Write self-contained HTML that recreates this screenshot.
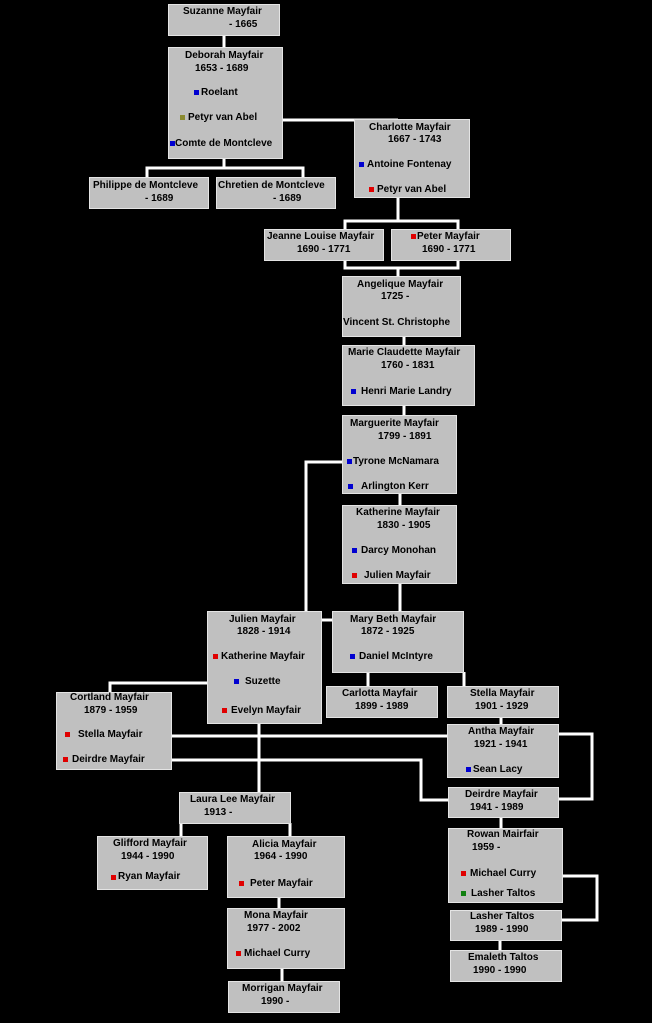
<!DOCTYPE html>
<html><head><meta charset="utf-8"><style>
html,body{margin:0;padding:0;background:#000;width:652px;height:1023px;overflow:hidden;position:relative}
.b{position:absolute;background:#c0c0c0;border:1px solid #e4e4e4;box-sizing:border-box}
i{position:absolute;font:bold 10px/12px "Liberation Sans",Arial,sans-serif;color:#000;font-style:normal;white-space:nowrap}
b{position:absolute;width:5px;height:5px}
.r{background:#e00000}.u{background:#0000d0}.o{background:#8a8a30}.g{background:#108010}
svg{position:absolute;left:0;top:0}
</style></head><body>
<svg width="652" height="1023"><g stroke="#fff" stroke-width="3" fill="none">
<path d="M224 35V47"/>
<path d="M282 120H398V119"/>
<path d="M224 158V168M147 177V168H303V177"/>
<path d="M398 197V221M345 229V221H458V229"/>
<path d="M345 260V268H458V260M398 268V276"/>
<path d="M404 336V345M404 405V415M400 493V505"/>
<path d="M342 462H306V611"/>
<path d="M400 583V611"/>
<path d="M321 620H332"/>
<path d="M207 683H110V692"/>
<path d="M368 672V686M464 672V686"/>
<path d="M259 723V792"/>
<path d="M171 736H447"/>
<path d="M171 760H421V800H448"/>
<path d="M501 717V724"/>
<path d="M558 734H592V799H558"/>
<path d="M501 817V828"/>
<path d="M181 823V836M290 823V836"/>
<path d="M279 897V908M282 968V981"/>
<path d="M562 876H597V920H561"/>
<path d="M500 940V950"/>
</g></svg>

<div class="b" style="left:168px;top:4px;width:112px;height:32px"></div>
<div class="b" style="left:168px;top:47px;width:115px;height:112px"></div>
<div class="b" style="left:89px;top:177px;width:120px;height:32px"></div>
<div class="b" style="left:216px;top:177px;width:120px;height:32px"></div>
<div class="b" style="left:354px;top:119px;width:116px;height:79px"></div>
<div class="b" style="left:264px;top:229px;width:120px;height:32px"></div>
<div class="b" style="left:391px;top:229px;width:120px;height:32px"></div>
<div class="b" style="left:342px;top:276px;width:119px;height:61px"></div>
<div class="b" style="left:342px;top:345px;width:133px;height:61px"></div>
<div class="b" style="left:342px;top:415px;width:115px;height:79px"></div>
<div class="b" style="left:342px;top:505px;width:115px;height:79px"></div>
<div class="b" style="left:207px;top:611px;width:115px;height:113px"></div>
<div class="b" style="left:332px;top:611px;width:132px;height:62px"></div>
<div class="b" style="left:56px;top:692px;width:116px;height:78px"></div>
<div class="b" style="left:326px;top:686px;width:112px;height:32px"></div>
<div class="b" style="left:447px;top:686px;width:112px;height:32px"></div>
<div class="b" style="left:447px;top:724px;width:112px;height:54px"></div>
<div class="b" style="left:179px;top:792px;width:112px;height:32px"></div>
<div class="b" style="left:448px;top:787px;width:111px;height:31px"></div>
<div class="b" style="left:97px;top:836px;width:111px;height:54px"></div>
<div class="b" style="left:227px;top:836px;width:118px;height:62px"></div>
<div class="b" style="left:448px;top:828px;width:115px;height:75px"></div>
<div class="b" style="left:450px;top:910px;width:112px;height:31px"></div>
<div class="b" style="left:227px;top:908px;width:118px;height:61px"></div>
<div class="b" style="left:450px;top:950px;width:112px;height:32px"></div>
<div class="b" style="left:228px;top:981px;width:112px;height:32px"></div>

<i style="left:183px;top:6px">Suzanne Mayfair</i><i style="left:229px;top:19px">- 1665</i>
<i style="left:185px;top:50px">Deborah Mayfair</i><i style="left:195px;top:63px">1653 - 1689</i>
<b class="u" style="left:194px;top:90px"></b><i style="left:201px;top:87px">Roelant</i>
<b class="o" style="left:180px;top:115px"></b><i style="left:188px;top:112px">Petyr van Abel</i>
<b class="u" style="left:170px;top:141px"></b><i style="left:175px;top:138px">Comte de Montcleve</i>
<i style="left:93px;top:180px">Philippe de Montcleve</i><i style="left:145px;top:193px">- 1689</i>
<i style="left:218px;top:180px">Chretien de Montcleve</i><i style="left:273px;top:193px">- 1689</i>
<i style="left:369px;top:122px">Charlotte Mayfair</i><i style="left:388px;top:134px">1667 - 1743</i>
<b class="u" style="left:359px;top:162px"></b><i style="left:367px;top:159px">Antoine Fontenay</i>
<b class="r" style="left:369px;top:187px"></b><i style="left:377px;top:184px">Petyr van Abel</i>
<i style="left:267px;top:231px">Jeanne Louise Mayfair</i><i style="left:297px;top:244px">1690 - 1771</i>
<b class="r" style="left:411px;top:234px"></b><i style="left:417px;top:231px">Peter Mayfair</i><i style="left:422px;top:244px">1690 - 1771</i>
<i style="left:357px;top:279px">Angelique Mayfair</i><i style="left:381px;top:291px">1725 -</i>
<i style="left:343px;top:317px">Vincent St. Christophe</i>
<i style="left:348px;top:347px">Marie Claudette Mayfair</i><i style="left:381px;top:360px">1760 - 1831</i>
<b class="u" style="left:351px;top:389px"></b><i style="left:361px;top:386px">Henri Marie Landry</i>
<i style="left:350px;top:418px">Marguerite Mayfair</i><i style="left:378px;top:431px">1799 - 1891</i>
<b class="u" style="left:347px;top:459px"></b><i style="left:353px;top:456px">Tyrone McNamara</i>
<b class="u" style="left:348px;top:484px"></b><i style="left:361px;top:481px">Arlington Kerr</i>
<i style="left:356px;top:507px">Katherine Mayfair</i><i style="left:377px;top:520px">1830 - 1905</i>
<b class="u" style="left:352px;top:548px"></b><i style="left:361px;top:545px">Darcy Monohan</i>
<b class="r" style="left:352px;top:573px"></b><i style="left:364px;top:570px">Julien Mayfair</i>
<i style="left:229px;top:614px">Julien Mayfair</i><i style="left:237px;top:626px">1828 - 1914</i>
<b class="r" style="left:213px;top:654px"></b><i style="left:221px;top:651px">Katherine Mayfair</i>
<b class="u" style="left:234px;top:679px"></b><i style="left:245px;top:676px">Suzette</i>
<b class="r" style="left:222px;top:708px"></b><i style="left:231px;top:705px">Evelyn Mayfair</i>
<i style="left:350px;top:614px">Mary Beth Mayfair</i><i style="left:361px;top:626px">1872 - 1925</i>
<b class="u" style="left:350px;top:654px"></b><i style="left:359px;top:651px">Daniel McIntyre</i>
<i style="left:70px;top:692px">Cortland Mayfair</i><i style="left:84px;top:705px">1879 - 1959</i>
<b class="r" style="left:65px;top:732px"></b><i style="left:78px;top:729px">Stella Mayfair</i>
<b class="r" style="left:63px;top:757px"></b><i style="left:72px;top:754px">Deirdre Mayfair</i>
<i style="left:342px;top:688px">Carlotta Mayfair</i><i style="left:355px;top:701px">1899 - 1989</i>
<i style="left:470px;top:688px">Stella Mayfair</i><i style="left:475px;top:701px">1901 - 1929</i>
<i style="left:468px;top:726px">Antha Mayfair</i><i style="left:474px;top:739px">1921 - 1941</i>
<b class="u" style="left:466px;top:767px"></b><i style="left:473px;top:764px">Sean Lacy</i>
<i style="left:190px;top:794px">Laura Lee Mayfair</i><i style="left:204px;top:807px">1913 -</i>
<i style="left:465px;top:789px">Deirdre Mayfair</i><i style="left:470px;top:802px">1941 - 1989</i>
<i style="left:113px;top:838px">Glifford Mayfair</i><i style="left:121px;top:851px">1944 - 1990</i>
<b class="r" style="left:111px;top:875px"></b><i style="left:118px;top:871px">Ryan Mayfair</i>
<i style="left:252px;top:839px">Alicia Mayfair</i><i style="left:254px;top:851px">1964 - 1990</i>
<b class="r" style="left:239px;top:881px"></b><i style="left:250px;top:878px">Peter Mayfair</i>
<i style="left:467px;top:829px">Rowan Mairfair</i><i style="left:472px;top:842px">1959 -</i>
<b class="r" style="left:461px;top:871px"></b><i style="left:470px;top:868px">Michael Curry</i>
<b class="g" style="left:461px;top:891px"></b><i style="left:471px;top:888px">Lasher Taltos</i>
<i style="left:470px;top:911px">Lasher Taltos</i><i style="left:475px;top:924px">1989 - 1990</i>
<i style="left:244px;top:910px">Mona Mayfair</i><i style="left:247px;top:923px">1977 - 2002</i>
<b class="r" style="left:236px;top:951px"></b><i style="left:244px;top:948px">Michael Curry</i>
<i style="left:468px;top:952px">Emaleth Taltos</i><i style="left:473px;top:965px">1990 - 1990</i>
<i style="left:242px;top:983px">Morrigan Mayfair</i><i style="left:261px;top:996px">1990 -</i>
</body></html>
